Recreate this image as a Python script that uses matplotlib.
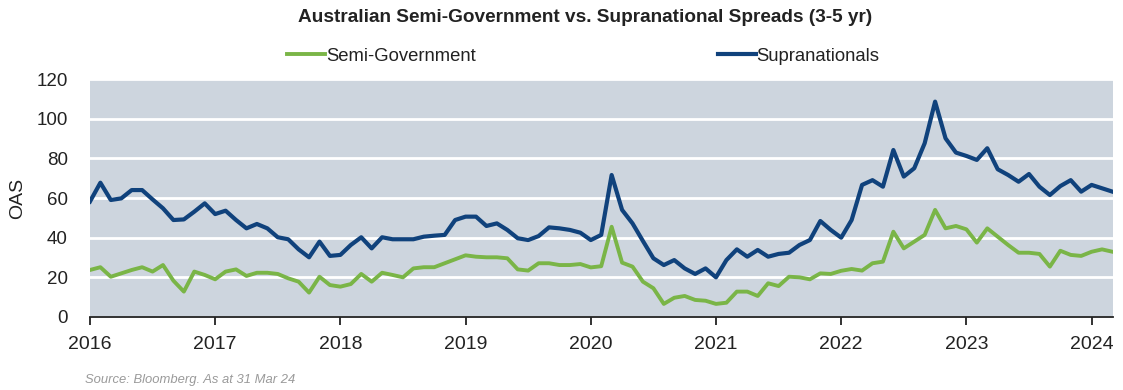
import numpy as np
import matplotlib
matplotlib.use("Agg")
import matplotlib.pyplot as plt

plt.rcParams['font.family'] = ['Liberation Sans', 'DejaVu Sans']

# monthly OAS (bp), Dec 2015 to Feb 2024
supra = [58.2, 67.7, 59.0, 59.8, 64.0, 64.0, 59.3, 54.8, 48.9, 49.2, 53.1, 57.3,
         51.9, 53.6, 48.9, 44.7, 46.9, 44.7, 40.2, 39.2, 34.1, 30.1, 38.0, 30.8,
         31.3, 36.3, 40.2, 34.6, 40.2, 39.2, 39.2, 39.2, 40.5, 41.0, 41.4, 48.9,
         50.6, 50.6, 45.9, 47.2, 43.9, 39.7, 38.8, 40.8, 45.2, 44.7, 43.9, 42.5,
         38.8, 41.4, 71.6, 54.0, 47.2, 38.3, 29.6, 26.2, 28.7, 24.5, 21.7, 24.5,
         20.0, 28.7, 34.1, 30.4, 33.8, 30.4, 31.8, 32.4, 36.3, 38.8, 48.4, 43.9,
         40.0, 48.9, 66.6, 69.0, 65.7, 84.2, 70.8, 75.0, 87.6, 108.6, 90.1, 82.9,
         81.2, 79.2, 85.1, 74.5, 71.6, 68.2, 72.1, 65.7, 61.5, 66.0, 69.0, 63.2,
         66.6, 64.9, 63.2]

semi = [23.7, 25.1, 20.3, 22.0, 23.7, 25.1, 22.9, 26.2, 18.3, 12.8, 22.9, 21.2,
        19.0, 22.9, 24.0, 20.7, 22.3, 22.3, 21.7, 19.5, 17.8, 12.3, 20.3, 16.1,
        15.3, 16.6, 21.7, 17.8, 22.3, 21.2, 20.0, 24.5, 25.1, 25.1, 27.1, 29.1,
        31.1, 30.4, 30.1, 30.1, 29.6, 24.0, 23.4, 27.1, 27.1, 26.2, 26.2, 26.7,
        25.0, 25.6, 45.5, 27.4, 25.4, 17.8, 14.5, 6.6, 9.7, 10.6, 8.6, 8.2,
        6.6, 7.2, 12.8, 12.8, 10.6, 17.0, 15.6, 20.3, 20.0, 19.0, 22.0, 21.7,
        23.3, 24.2, 23.4, 27.1, 27.9, 43.0, 34.6, 38.0, 41.4, 54.0, 44.7, 45.9,
        44.2, 37.5, 44.7, 40.5, 36.3, 32.4, 32.4, 31.8, 25.4, 33.4, 31.3, 30.8,
        32.9, 34.1, 32.9]

years = list(range(2016, 2025))
t = 2016 + np.arange(len(supra)) / 12.0

fig = plt.figure(figsize=(11.23, 3.90), dpi=100)
ax = fig.add_axes([0.0801, 0.1872, 0.9109, 0.6102])
ax.set_facecolor('#cdd5de')

ax.plot(t, semi, color='#7ab547', lw=2.8, label='Semi-Government', solid_joinstyle='round')
ax.plot(t, supra, color='#10427c', lw=3.0, label='Supranationals', solid_joinstyle='round')

ax.set_xlim(2016, 2024.17)
ax.set_ylim(0, 120)
ax.set_yticks(range(0, 121, 20))
ax.set_xticks(years)
ax.set_xticklabels([str(y) for y in years])
ax.yaxis.grid(True, color='white', lw=2)
ax.set_axisbelow(True)

for s in ['top', 'right', 'left']:
    ax.spines[s].set_visible(False)
ax.spines['bottom'].set_color('#222222')
ax.spines['bottom'].set_linewidth(1.3)
ax.spines['bottom'].set_zorder(5)

ax.tick_params(axis='x', direction='out', length=6, width=1.3, color='#222222',
               labelsize=14, pad=8, labelcolor='#222222')
ax.tick_params(axis='y', length=0, labelsize=13.5, pad=16, labelcolor='#222222')

ax.set_ylabel('OAS', fontsize=14, color='#222222')
ax.yaxis.set_label_coords(-0.062, 0.5)

fig.text(0.521, 0.954, 'Australian Semi-Government vs. Supranational Spreads (3-5 yr)',
         ha='center', va='center', fontsize=13.7, fontweight='bold', color='#222222')

ax.legend(loc='center', bbox_to_anchor=(0.5196, 0.856), bbox_transform=fig.transFigure,
          ncol=2, frameon=False, fontsize=13.3, handlelength=2.05, handletextpad=0.05,
          columnspacing=13.1, borderpad=0, labelcolor='#222222')

fig.text(0.0757, 0.026, 'Source: Bloomberg. As at 31 Mar 24', ha='left', va='center',
         fontsize=9.4, style='italic', color='#9a9a9a')

fig.savefig('out.png', dpi=100)
